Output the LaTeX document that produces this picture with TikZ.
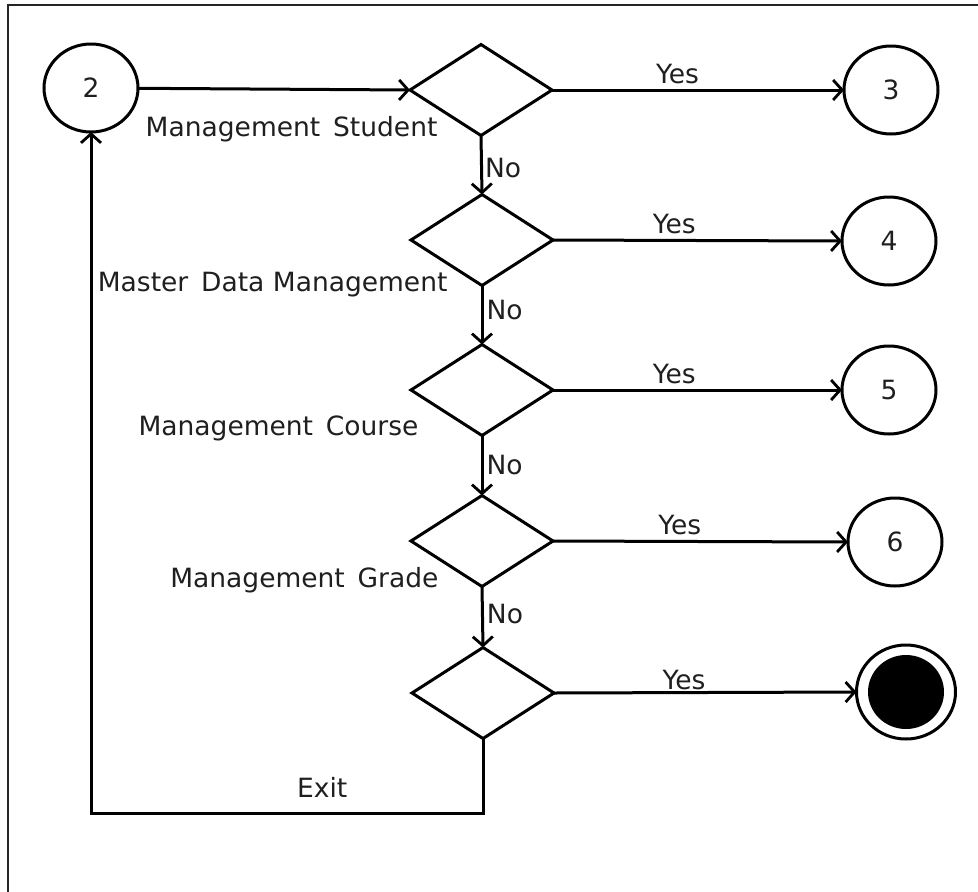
\documentclass[tikz,border=0pt]{standalone}
\usepackage{fontspec}
\setmainfont{DejaVu Sans}
\usetikzlibrary{shapes.geometric,arrows.meta}
\begin{document}
\begin{tikzpicture}[x=1pt,y=-1pt,
  txt/.style={font=\fontsize{26.5}{30}\selectfont, text=black!88},
  decision/.style={diamond, draw, line width=3pt, inner sep=0pt, outer sep=0pt,
    minimum width=142pt, minimum height=91pt, aspect=1.56},
  state/.style={ellipse, draw, line width=3pt, inner sep=0pt, outer sep=0pt,
    minimum width=94pt, minimum height=88pt, txt},
  flow/.style={line width=3pt,
    -{Straight Barb[length=9pt, width=20pt, line width=2.8pt]}},
  frame/.style={line width=1.6pt, black!85}
]
\useasboundingbox (0,0) rectangle (978,892);

% page frame (top and left edges only)
\draw[frame] (978,5) -- (8,5) -- (8,892);

% states
\node[state] (s2) at (91,88) {2};
\node[state] (s3) at (891,90) {3};
\node[state] (s4) at (889,241) {4};
\node[state] (s5) at (889,390) {5};
\node[state] (s6) at (895,542) {6};
\node[ellipse, draw, line width=3pt, inner sep=0pt, outer sep=0pt,
  minimum width=99pt, minimum height=94pt] (fin) at (906,692) {};
\node[ellipse, fill=black, inner sep=0pt, minimum width=76pt, minimum height=74pt]
  (finDot) at (fin.center) {};

% decisions
\node[decision] (d1) at (481,90) {};
\node[decision] (d2) at (482,240) {};
\node[decision] (d3) at (482,390) {};
\node[decision] (d4) at (482,541) {};
\node[decision] (d5) at (483,693) {};

% decision captions
\node[txt, anchor=base east] at (441,136) {Management\, Student};
\node[txt, anchor=base east] at (451,291) {Master\, Data Management};
\node[txt, anchor=base east] at (422,435) {Management\, Course};
\node[txt, anchor=base east] at (442,587) {Management\, Grade};

% flow
\draw[flow] (s2) -- (d1.west);
\draw[flow] (d1.east) -- node[txt, above, pos=0.43, inner sep=5pt] {Yes} (s3.west);
\draw[flow] (d2.east) -- node[txt, above, pos=0.42, inner sep=5pt] {Yes} (s4.west);
\draw[flow] (d3.east) -- node[txt, above, pos=0.42, inner sep=5pt] {Yes} (s5.west);
\draw[flow] (d4.east) -- node[txt, above, pos=0.43, inner sep=5pt] {Yes} (s6.west);
\draw[flow] (d5.east) -- node[txt, above, pos=0.43, inner sep=1pt] {Yes} (fin.west);

\draw[flow] (d1.south) -- node[txt, right, pos=0.55, inner sep=2pt] {No} (d2.north);
\draw[flow] (d2.south) -- node[txt, right, pos=0.42, inner sep=3pt] {No} (d3.north);
\draw[flow] (d3.south) -- node[txt, right, pos=0.5, inner sep=3pt] {No} (d4.north);
\draw[flow] (d4.south) -- node[txt, right, pos=0.45, inner sep=3pt] {No} (d5.north);

% exit loop back to state 2
\coordinate (loopY) at (485,813);
\draw[flow] (d5.south) -- (d5.south |- loopY)
  -- node[txt, above, pos=0.41, inner sep=14pt] {Exit} (s2.south |- loopY)
  -- (s2.south);
\end{tikzpicture}
\end{document}
